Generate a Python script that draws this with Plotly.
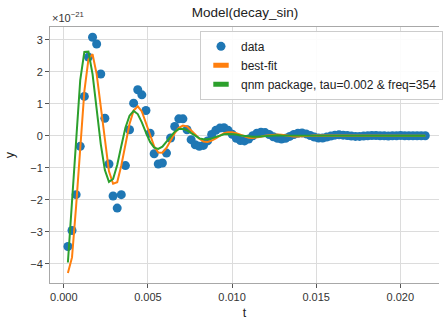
import numpy as np
import plotly.graph_objects as go

# Strain samples (units of 1e-21) at a 4096 Hz sample rate
SAMPLE_RATE = 4096
n_samples = 88
t = np.arange(1, n_samples + 1) / SAMPLE_RATE

data_y = [
    -3.46, -2.96, -1.84, -0.33, 1.23, 2.46, 3.08, 2.87, 1.93, 0.55,
    -0.88, -1.88, -2.26, -1.84, -0.93, 0.19, 1.02, 1.44, 1.28, 0.79,
    0.08, -0.56, -0.88, -0.85, -0.54, -0.07, 0.29, 0.53, 0.53, 0.19,
    -0.12, -0.28, -0.33, -0.30, -0.16, 0.04, 0.17, 0.24, 0.25, 0.17,
    0.05, -0.08, -0.15, -0.16, -0.10, 0.00, 0.08, 0.11, 0.10, 0.04,
    -0.03, -0.08, -0.10, -0.08, -0.02, 0.04, 0.08, 0.09, 0.06, 0.01,
    -0.04, -0.07, -0.07, -0.04, -0.01, 0.02, 0.03, 0.02, 0.01, -0.01,
    -0.02, -0.02, -0.01, 0.00, 0.01, 0.01, 0.00, 0.00, -0.01, 0.00,
    0.00, 0.01, 0.00, 0.00, 0.00, 0.00, 0.00, 0.00,
]

best_fit_y = [
    -4.29, -3.80, -2.20, -0.28, 1.39, 2.39, 2.55, 1.93, 0.88, -0.25,
    -1.11, -1.50, -1.45, -0.93, -0.27, 0.37, 0.79, 0.92, 0.76, 0.41,
    0.00, -0.33, -0.52, -0.53, -0.38, -0.15, 0.08, 0.25, 0.32, 0.29,
    0.18, 0.04, -0.09, -0.18, -0.19, -0.15, -0.08, 0.01, 0.08, 0.11,
    0.11, 0.08, 0.03, -0.02, -0.06, -0.07, -0.06, -0.03, 0.00, 0.02,
    0.04, 0.04, 0.03, 0.01, -0.01, -0.02, -0.02, -0.02, -0.02, 0.00,
    0.01, 0.01, 0.01, 0.01, 0.01, 0.00, -0.01, -0.01, -0.01, 0.00,
    0.00, 0.00, 0.00, 0.00, 0.00, 0.00, 0.00, 0.00, 0.00, 0.00,
    0.00, 0.00, 0.00, 0.00, 0.00, 0.00, 0.00, 0.00,
]

qnm_y = [
    -3.96, -2.04, 0.07, 1.74, 2.62, 2.63, 1.93, 0.84, -0.26, -1.07,
    -1.44, -1.35, -0.91, -0.32, 0.25, 0.63, 0.78, 0.68, 0.42, 0.10,
    -0.19, -0.37, -0.41, -0.34, -0.19, -0.02, 0.13, 0.21, 0.22, 0.17,
    0.08, -0.01, -0.08, -0.11, -0.11, -0.08, -0.03, 0.01, 0.05, 0.06,
    0.06, 0.04, 0.01, -0.01, -0.03, -0.03, -0.03, -0.02, 0.00, 0.01,
    0.02, 0.02, 0.01, 0.01, 0.00, 0.00, 0.00, 0.00, 0.00, 0.00,
    0.00, 0.00, 0.00, 0.00, 0.00, 0.00, 0.00, 0.00, 0.00, 0.00,
    0.00, 0.00, 0.00, 0.00, 0.00, 0.00, 0.00, 0.00, 0.00, 0.00,
    0.00, 0.00, 0.00, 0.00, 0.00, 0.00, 0.00, 0.00,
]

x_ticks = [0.000, 0.005, 0.010, 0.015, 0.020]
y_ticks = [-4, -3, -2, -1, 0, 1, 2, 3]

BLUE, ORANGE, GREEN = "#1f77b4", "#ff7f0e", "#2ca02c"
FONT = "Liberation Sans, Arial, sans-serif"

fig = go.Figure()

fig.add_trace(go.Scatter(x=t, y=data_y, mode="markers",
                         marker=dict(color=BLUE, size=9),
                         showlegend=False))
fig.add_trace(go.Scatter(x=t, y=best_fit_y, mode="lines",
                         line=dict(color=ORANGE, width=2),
                         showlegend=False))
fig.add_trace(go.Scatter(x=t, y=qnm_y, mode="lines",
                         line=dict(color=GREEN, width=2),
                         showlegend=False))

# Legend entries: a dot for the samples, filled bars for the two fits
fig.add_trace(go.Scatter(x=[None], y=[None], mode="markers", name="data",
                         marker=dict(color=BLUE, size=9, symbol="circle")))
fig.add_trace(go.Scatter(x=[None], y=[None], mode="markers", name="best-fit",
                         marker=dict(color=ORANGE, size=11, symbol="line-ew",
                                     line=dict(color=ORANGE, width=6))))
fig.add_trace(go.Scatter(x=[None], y=[None], mode="markers",
                         name="qnm package, tau=0.002 & freq=354",
                         marker=dict(color=GREEN, size=11, symbol="line-ew",
                                     line=dict(color=GREEN, width=6))))

fig.update_layout(
    width=443, height=322,
    margin=dict(l=50, r=0, t=27, b=39),
    paper_bgcolor="white", plot_bgcolor="white",
    font=dict(family=FONT, size=11, color="#333333"),
    title=dict(text="Model(decay_sin)", x=245 / 443, xanchor="center",
               y=1 - 12 / 322, yanchor="middle",
               font=dict(size=13.5, color="#222222")),
    legend=dict(x=0.386, y=0.985, xanchor="left", yanchor="top",
                bgcolor="rgba(255,255,255,0.9)", bordercolor="#cccccc",
                borderwidth=1, font=dict(size=12, color="#222222"),
                itemwidth=30, tracegroupgap=0),
    xaxis=dict(range=[-0.00082, 0.0223], tickvals=x_ticks, tickformat=".3f",
               showgrid=True, gridcolor="#dcdcdc", gridwidth=1,
               showline=True, linecolor="#a8a8a8", linewidth=1, mirror=True,
               ticks="outside", ticklen=4, tickcolor="#555555",
               zeroline=False, tickfont=dict(size=11, color="#333333"),
               title=dict(text="t", font=dict(size=12.5, color="#222222"),
                          standoff=6)),
    yaxis=dict(range=[-4.6, 3.4], tickvals=y_ticks,
               showgrid=True, gridcolor="#dcdcdc", gridwidth=1,
               showline=True, linecolor="#a8a8a8", linewidth=1,
               ticks="outside", ticklen=4, tickcolor="#555555",
               zeroline=False, tickfont=dict(size=11, color="#333333"),
               title=dict(text="y", font=dict(size=12.5, color="#222222"),
                          standoff=12)),
)

# Axis offset label for the y scale
fig.add_annotation(text="×10<sup>−21</sup>", xref="paper", yref="paper",
                   x=0, y=1, xanchor="left", yanchor="bottom", yshift=1,
                   showarrow=False, font=dict(size=11, color="#333333"))

fig.write_html("out.html")
